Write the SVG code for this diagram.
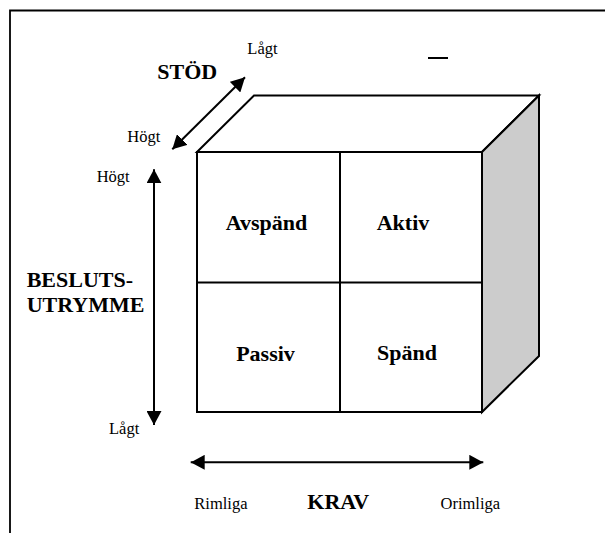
<svg xmlns="http://www.w3.org/2000/svg" width="605" height="533" viewBox="0 0 605 533">
<style>
.b{font-family:"Liberation Serif","Times New Roman",serif;font-weight:bold;font-size:22px;fill:#000}
.r{font-family:"Liberation Serif","Times New Roman",serif;font-size:16.5px;fill:#000}
.ln{stroke:#000;stroke-width:2;fill:none}
.ax{stroke:#000;stroke-width:2;fill:none}
</style>
<defs>
<marker id="ah" viewBox="0 0 14 15" refX="14" refY="7.5" markerWidth="14" markerHeight="15" markerUnits="userSpaceOnUse" orient="auto-start-reverse">
<path d="M0,0 L14,7.5 L0,15 Z" fill="#000"/>
</marker>
</defs>
<rect width="605" height="533" fill="#fff"/>
<path d="M10,533 V10.5 H605" fill="none" stroke="#000" stroke-width="1.8"/>
<line x1="428" y1="58" x2="448" y2="58" stroke="#000" stroke-width="2"/>
<g id="cube">
<polygon points="197,152 254,95.5 539,95.5 482,152" fill="#fff" stroke="#000" stroke-width="2"/>
<polygon points="482,152 539,95.5 539,356 482,412" fill="#cccccc" stroke="#000" stroke-width="2"/>
<rect x="197" y="152" width="285" height="260" fill="#fff" stroke="#000" stroke-width="2"/>
</g>
<g id="cell-avspand">
<text class="b" x="266.5" y="230" text-anchor="middle">Avspänd</text>
</g>
<g id="cell-aktiv">
<line class="ln" x1="340" y1="152" x2="340" y2="412"/>
<text class="b" x="403" y="230" text-anchor="middle">Aktiv</text>
</g>
<g id="cell-passiv">
<line class="ln" x1="197" y1="282.5" x2="482" y2="282.5"/>
<text class="b" x="265.5" y="360.5" text-anchor="middle">Passiv</text>
</g>
<g id="cell-spand">
<text class="b" x="407" y="360" text-anchor="middle">Spänd</text>
</g>
<g id="connectors">
<line class="ax" x1="245" y1="77.3" x2="172.3" y2="149.3" marker-start="url(#ah)" marker-end="url(#ah)"/>
<line class="ax" x1="154" y1="169.3" x2="154" y2="425" marker-start="url(#ah)" marker-end="url(#ah)"/>
<line class="ax" x1="190.7" y1="462.3" x2="483.3" y2="462.3" marker-start="url(#ah)" marker-end="url(#ah)"/>
</g>
<g id="stod-labels">
<text class="b" x="157.3" y="79.3">STÖD</text>
<text class="r" x="247.3" y="53.5">Lågt</text>
<text class="r" x="127.3" y="141.7">Högt</text>
</g>
<g id="beslut-labels">
<text class="r" x="96.7" y="181.7">Högt</text>
<text class="b" x="26.7" y="286.7">BESLUTS-</text>
<text class="b" x="26.7" y="311.7">UTRYMME</text>
<text class="r" x="109" y="434">Lågt</text>
</g>
<g id="krav-labels">
<text class="r" x="194.3" y="509">Rimliga</text>
<text class="b" x="307.3" y="509">KRAV</text>
<text class="r" x="440.5" y="508.5">Orimliga</text>
</g>
</svg>
